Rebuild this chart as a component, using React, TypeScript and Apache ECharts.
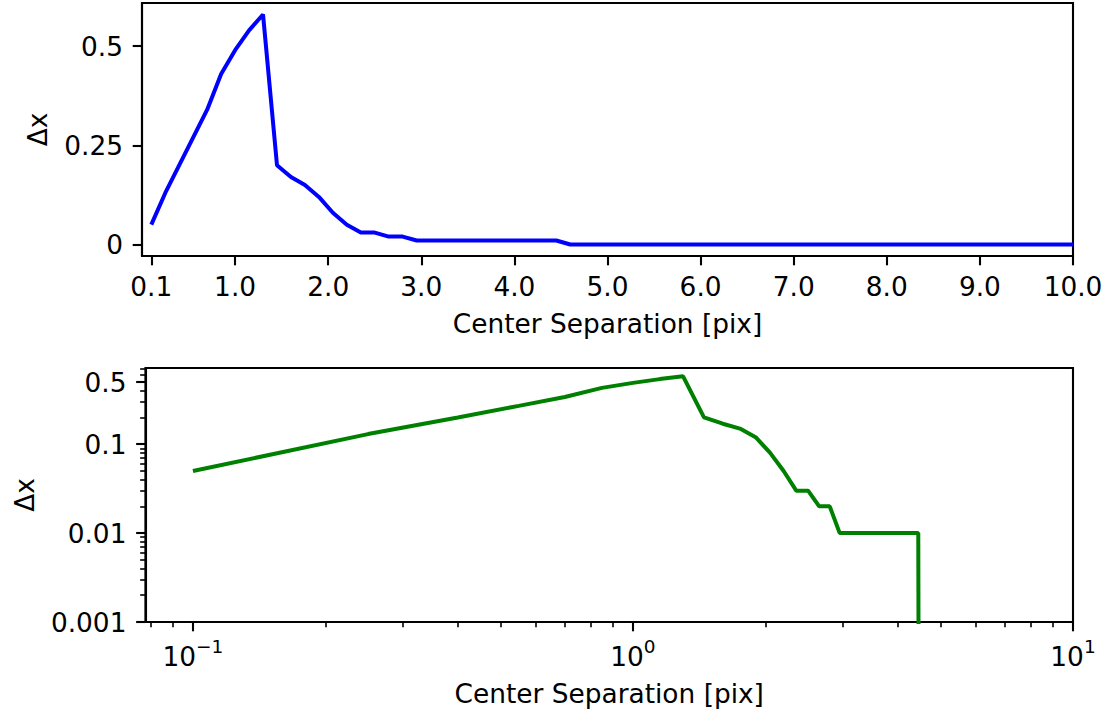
import React, { useEffect, useRef } from "react";
import * as echarts from "echarts";

const xValues = [
  0.1, 0.25, 0.4, 0.55, 0.7, 0.85, 1.0, 1.15, 1.3, 1.45, 1.6, 1.75, 1.9, 2.05, 2.2, 2.35, 2.5, 2.65, 2.8, 2.95,
  3.1, 3.25, 3.4, 3.55, 3.7, 3.85, 4.0, 4.15, 4.3, 4.45, 4.6, 4.75, 4.9, 5.05, 5.2, 5.35, 5.5, 5.65, 5.8, 5.95,
  6.1, 6.25, 6.4, 6.55, 6.7, 6.85, 7.0, 7.15, 7.3, 7.45, 7.6, 7.75, 7.9, 8.05, 8.2, 8.35, 8.5, 8.65, 8.8, 8.95,
  9.1, 9.25, 9.4, 9.55, 9.7, 9.85, 10.0,
];

const dxValues = [
  0.05, 0.13, 0.2, 0.27, 0.34, 0.43, 0.49, 0.54, 0.58, 0.2, 0.17, 0.15, 0.12, 0.08, 0.05, 0.03, 0.03, 0.02, 0.02, 0.01,
  0.01, 0.01, 0.01, 0.01, 0.01, 0.01, 0.01, 0.01, 0.01, 0.01, 0, 0, 0, 0, 0, 0, 0, 0, 0, 0,
  0, 0, 0, 0, 0, 0, 0, 0, 0, 0, 0, 0, 0, 0, 0, 0, 0, 0, 0, 0,
  0, 0, 0, 0, 0, 0, 0,
];

const topXTicks = [0.1, 1, 2, 3, 4, 5, 6, 7, 8, 9, 10];
const topYTicks = [0, 0.25, 0.5];
const logXMajor = [0.1, 1, 10];
const logXMinor = [0.08, 0.09, 0.2, 0.3, 0.4, 0.5, 0.6, 0.7, 0.8, 0.9, 2, 3, 4, 5, 6, 7, 8, 9];
const logYMajor = [0.001, 0.01, 0.1, 0.5];
const logYMinor = [
  0.002, 0.003, 0.004, 0.005, 0.006, 0.007, 0.008, 0.009,
  0.02, 0.03, 0.04, 0.05, 0.06, 0.07, 0.08, 0.09,
  0.2, 0.3, 0.4, 0.6, 0.7,
];

const xLabel = "Center Separation [pix]";
const yLabel = "Δx";

const FONT = "DejaVu Sans";
const FS = 26.4;
const LH = 32;

export default function App() {
  const ref = useRef<HTMLDivElement>(null);

  useEffect(() => {
    if (!ref.current) return;
    const chart = echarts.init(ref.current, undefined, { renderer: "svg" });

    const majorTick = (vals: number[]) => ({
      show: true,
      inside: false,
      length: 9.3,
      customValues: vals,
      lineStyle: { color: "#000", width: 2.1 },
    });
    const minorTick = (vals: number[]) => ({
      show: true,
      inside: false,
      length: 5.3,
      customValues: vals,
      lineStyle: { color: "#000", width: 1.6 },
    });
    const axisLine = { show: true, onZero: false, lineStyle: { color: "#000", width: 2.1 } };
    const labelBase = { color: "#000", fontFamily: FONT, fontSize: FS, lineHeight: LH };
    const nameStyle = { color: "#000", fontFamily: FONT, fontSize: FS, lineHeight: LH };

    const linData = xValues.map((x, i) => [x, dxValues[i]]);
    const logData = xValues.map((x, i) => [x, dxValues[i] > 0 ? dxValues[i] : 1e-30]);

    const supExp = (v: number) => {
      const e = Math.round(Math.log10(v));
      const s = e < 0 ? "\u2212" + String(-e) : String(e);
      return `{b|10}{s|${s}}`;
    };

    const option: any = {
      animation: false,
      backgroundColor: "#fff",
      grid: [
        { left: 142, top: 3, width: 931, height: 253, show: true, borderColor: "#000", borderWidth: 2.1, containLabel: false },
        { left: 142, top: 368, width: 931, height: 254, show: true, borderColor: "#000", borderWidth: 2.1, containLabel: false },
      ],
      xAxis: [
        {
          type: "value",
          gridIndex: 0,
          position: "bottom",
          min: 0,
          max: 10,
          axisLine,
          axisTick: majorTick(topXTicks),
          splitLine: { show: false },
          axisLabel: {
            ...labelBase,
            margin: 14,
            customValues: topXTicks,
            showMinLabel: true,
            showMaxLabel: true,
            formatter: (v: number) => v.toFixed(1),
          },
          name: xLabel,
          nameLocation: "middle",
          nameGap: 51,
          nameTextStyle: nameStyle,
        },
        {
          type: "log",
          logBase: 10,
          gridIndex: 1,
          position: "bottom",
          min: 0.078,
          max: 10,
          axisLine,
          axisTick: majorTick(logXMajor),
          splitLine: { show: false },
          minorTick: { show: false },
          axisLabel: {
            ...labelBase,
            margin: 15,
            customValues: logXMajor,
            showMinLabel: true,
            showMaxLabel: true,
            formatter: (v: number) => supExp(v),
            rich: {
              b: { color: "#000", fontFamily: FONT, fontSize: FS, lineHeight: LH, verticalAlign: "bottom" },
              s: { color: "#000", fontFamily: FONT, fontSize: 18.5, lineHeight: 20, verticalAlign: "top" },
            },
          },
          name: xLabel,
          nameLocation: "middle",
          nameGap: 55,
          nameTextStyle: nameStyle,
        },
        {
          type: "log",
          logBase: 10,
          gridIndex: 1,
          position: "bottom",
          min: 0.078,
          max: 10,
          axisLine: { show: false },
          axisTick: minorTick(logXMinor),
          splitLine: { show: false },
          minorTick: { show: false },
          axisLabel: { show: false },
        },
      ],
      yAxis: [
        {
          type: "value",
          gridIndex: 0,
          position: "left",
          min: -0.029,
          max: 0.609,
          axisLine,
          axisTick: majorTick(topYTicks),
          splitLine: { show: false },
          axisLabel: {
            ...labelBase,
            margin: 19,
            customValues: topYTicks,
            formatter: (v: number) => String(Number(v.toPrecision(3))),
          },
          name: yLabel,
          nameLocation: "middle",
          nameGap: 88,
          nameTextStyle: nameStyle,
        },
        {
          type: "log",
          logBase: 10,
          gridIndex: 1,
          position: "left",
          min: 0.001,
          max: 0.72,
          axisLine,
          axisTick: majorTick(logYMajor),
          splitLine: { show: false },
          minorTick: { show: false },
          axisLabel: {
            ...labelBase,
            margin: 19,
            customValues: logYMajor,
            showMinLabel: true,
            formatter: (v: number) => String(Number(v.toPrecision(3))),
          },
          name: yLabel,
          nameLocation: "middle",
          nameGap: 105,
          nameTextStyle: nameStyle,
        },
        {
          type: "log",
          logBase: 10,
          gridIndex: 1,
          position: "left",
          min: 0.001,
          max: 0.72,
          axisLine: { show: false },
          axisTick: minorTick(logYMinor),
          splitLine: { show: false },
          minorTick: { show: false },
          axisLabel: { show: false },
        },
      ],
      series: [
        {
          type: "line",
          xAxisIndex: 0,
          yAxisIndex: 0,
          data: linData,
          showSymbol: false,
          symbol: "none",
          clip: true,
          lineStyle: { color: "#0000ff", width: 4 },
        },
        {
          type: "line",
          xAxisIndex: 1,
          yAxisIndex: 1,
          data: logData,
          showSymbol: false,
          symbol: "none",
          clip: true,
          lineStyle: { color: "#008000", width: 4 },
        },
      ],
    };

    chart.setOption(option);
    return () => chart.dispose();
  }, []);

  return (
    <div
      ref={ref}
      style={{ position: "absolute", left: 0, top: 0, width: 1111, height: 713, background: "#fff" }}
    />
  );
}
